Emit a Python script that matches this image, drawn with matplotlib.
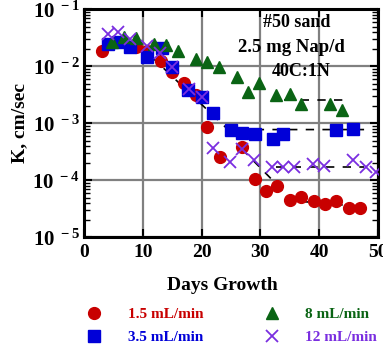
import math
import matplotlib
matplotlib.use('Agg')
import matplotlib.pyplot as plt
from matplotlib.ticker import FixedLocator, LogLocator, FuncFormatter, NullFormatter

plt.rcParams['font.family'] = 'Liberation Serif'
plt.rcParams['font.weight'] = 'bold'
plt.rcParams['mathtext.fontset'] = 'custom'
plt.rcParams['mathtext.rm'] = 'Liberation Serif:bold'
plt.rcParams['mathtext.it'] = 'Liberation Serif:bold'
plt.rcParams['mathtext.bf'] = 'Liberation Serif:bold'

# 1.5 mL/min
red_day = [3.0, 8.8, 10.8, 13.1, 15.0, 17.1, 19.1, 20.9, 23.1, 26.9, 29.1, 31.0, 32.9,
           35.0, 36.9, 39.2, 41.0, 42.8, 45.1, 46.9]
red_k = [0.019, 0.0224, 0.019, 0.0125, 0.0081, 0.0051, 0.0032, 8.5e-4, 2.6e-4, 3.8e-4,
         1.05e-4, 6.6e-5, 8.1e-5, 4.6e-5, 5.2e-5, 4.3e-5, 3.8e-5, 4.3e-5, 3.3e-5, 3.3e-5]

# 3.5 mL/min
blue_day = [4.1, 5.8, 7.8, 10.7, 13.2, 15.0, 17.7, 20.1, 21.9, 25.0, 26.9, 29.1, 32.1,
            33.9, 42.9, 45.8]
blue_k = [0.0246, 0.0266, 0.0218, 0.0145, 0.0213, 0.0099, 0.0039, 0.0029, 0.0015,
          7.8e-4, 6.9e-4, 6.5e-4, 5.3e-4, 6.5e-4, 7.7e-4, 8.0e-4]

# 8 mL/min
green_day = [4.8, 6.8, 8.9, 12.0, 14.0, 16.0, 19.0, 20.9, 22.9, 26.0, 27.9, 29.8, 32.6,
             35.0, 36.9, 41.9, 43.8]
green_k = [0.027, 0.033, 0.032, 0.025, 0.024, 0.0187, 0.0134, 0.0119, 0.0097, 0.0066,
           0.0035, 0.0052, 0.0031, 0.0033, 0.0022, 0.0022, 0.0017]

# 12 mL/min
purple_day = [4.1, 5.8, 7.8, 10.7, 12.9, 15.0, 17.8, 20.1, 21.9, 24.9, 26.9, 29.0, 32.0,
              33.8, 35.8, 38.9, 40.8, 45.8, 47.9, 49.6]
purple_k = [0.037, 0.041, 0.030, 0.023, 0.017, 0.0099, 0.0040, 0.0029, 3.7e-4, 2.1e-4,
            3.5e-4, 2.3e-4, 1.7e-4, 1.7e-4, 1.7e-4, 1.95e-4, 1.8e-4, 2.3e-4, 1.7e-4, 1.4e-4]

# dashed fit lines
fit1_day = [11.5, 24.5, 48.0]
fit1_k = [0.0148, 7.8e-4, 7.8e-4]
fit2_day = [26.8, 35.5, 44.0]
fit2_k = [3.6e-4, 4.4e-5, 3.7e-5]
fit3_day = [32.7, 47.6]
fit3_k = [1.7e-4, 1.7e-4]
fit4_day = [34.0, 44.0]
fit4_k = [2.6e-3, 2.6e-3]

fig = plt.figure(figsize=(3.83, 3.45), dpi=100)
ax = fig.add_axes([0.219, 0.312, 0.768, 0.6605])

ax.set_yscale('log')
ax.set_xlim(0, 50)
ax.set_ylim(1e-5, 1e-1)

for d, k in [(fit1_day, fit1_k), (fit2_day, fit2_k), (fit3_day, fit3_k), (fit4_day, fit4_k)]:
    ax.plot(d, k, color='black', lw=1.2, ls=(0, (5, 5)), zorder=2)

h1, = ax.plot(red_day, red_k, 'o', color='#c80000', ms=8.5, mec='#c80000', ls='none',
              zorder=3, label='1.5 mL/min')
h2, = ax.plot(blue_day, blue_k, 's', color='#0000d8', ms=8.5, mec='#0000d8', ls='none',
              zorder=4, label='3.5 mL/min')
h3, = ax.plot(green_day, green_k, '^', color='#0a6414', ms=8.5, mec='#0a6414', ls='none',
              zorder=5, label='8 mL/min')
h4, = ax.plot(purple_day, purple_k, 'x', color='#7a2ee0', ms=9, mew=1.3, ls='none',
              zorder=6, label='12 mL/min')

ax.xaxis.set_major_locator(FixedLocator([0, 10, 20, 30, 40, 50]))
ax.yaxis.set_major_locator(LogLocator(base=10, numticks=10))
ax.yaxis.set_minor_locator(LogLocator(base=10, subs=range(2, 10), numticks=20))
ax.yaxis.set_minor_formatter(NullFormatter())
ax.yaxis.set_major_formatter(FuncFormatter(lambda v, p: r'$10^{\ -%d}$' % round(-math.log10(v))))

ax.tick_params(which='both', direction='in', top=True, right=True)
ax.tick_params(which='major', length=6, width=1.5)
ax.tick_params(axis='x', labelsize=14, pad=5)
ax.tick_params(axis='y', labelsize=15, pad=3)
ax.tick_params(which='minor', length=4, width=1)

ax.grid(True, which='major', color='#808080', lw=1.6)
ax.set_axisbelow(True)
for s in ax.spines.values():
    s.set_linewidth(2.2)

ax.set_xlabel('Days Growth', fontsize=14, fontweight='bold')
ax.xaxis.set_label_coords(0.47, -0.175)
ax.set_ylabel('K, cm/sec', fontsize=14, fontweight='bold')
ax.yaxis.set_label_coords(-0.19, 0.5)

ax.text(0.725, 0.945, '#50 sand', transform=ax.transAxes, ha='center', va='center',
        fontsize=13, fontweight='bold')
ax.text(0.707, 0.835, '2.5 mg Nap/d', transform=ax.transAxes, ha='center', va='center',
        fontsize=13.5, fontweight='bold')
ax.text(0.738, 0.726, '40C:1N', transform=ax.transAxes, ha='center', va='center',
        fontsize=13, fontweight='bold')

fig.legend(handles=[h1, h2, h3, h4], ncol=2, loc='center', bbox_to_anchor=(0.595, 0.056),
           frameon=False, fontsize=11, handletextpad=1.2, columnspacing=3.5,
           labelspacing=0.6, labelcolor=['#c80000', '#0000d8', '#0a6414', '#7a2ee0'])

fig.savefig('out.png', dpi=100)
